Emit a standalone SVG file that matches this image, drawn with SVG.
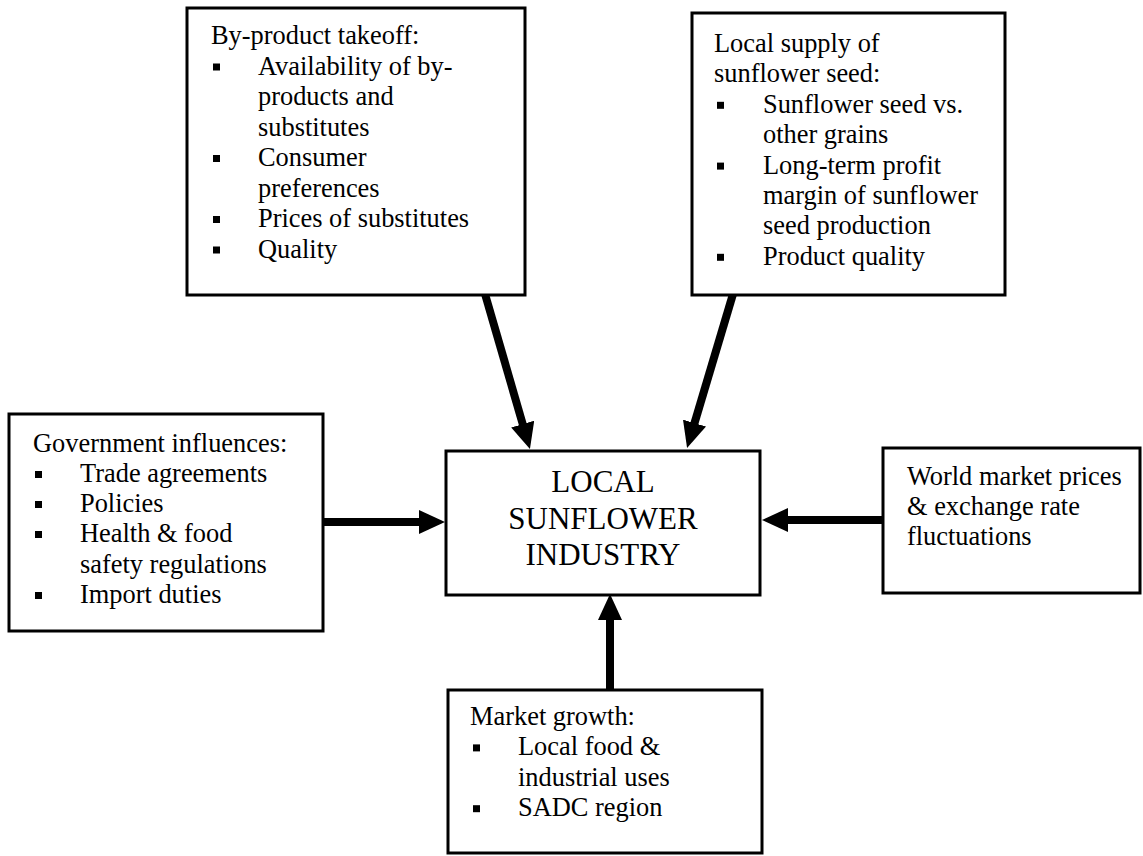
<svg xmlns="http://www.w3.org/2000/svg" width="1143" height="856" viewBox="0 0 1143 856">
<style>
.box{fill:#fff;stroke:#000;stroke-width:3}
.t{font-family:"Liberation Serif","Times New Roman",serif;font-size:26.4px;fill:#000}
.c{font-family:"Liberation Serif","Times New Roman",serif;font-size:31px;fill:#000;text-anchor:middle}
.b{fill:#000}
.arr{stroke:#000;stroke-width:8;fill:none;marker-end:url(#head)}
</style>
<defs>
<marker id="head" markerUnits="userSpaceOnUse" markerWidth="26" markerHeight="24" viewBox="0 0 26 24" refX="14" refY="12" orient="auto">
<polygon points="0,0 26,12 0,24" fill="#000"/>
</marker>
</defs>
<rect width="1143" height="856" fill="#fff"/>
<g id="connectors">
<line class="arr" x1="485" y1="294" x2="526.6" y2="437.5"/>
<line class="arr" x1="733" y1="294" x2="690.5" y2="436.5"/>
<line class="arr" x1="323" y1="522" x2="433" y2="522"/>
<line class="arr" x1="883" y1="520" x2="774" y2="520"/>
<line class="arr" x1="610" y1="690" x2="610" y2="606"/>
</g>
<g id="byproduct">
<rect class="box" x="187" y="8" width="338" height="287"/>
<text class="t" x="211" y="44">By-product takeoff:</text>
<rect class="b" x="213" y="63.5" width="7" height="7"/>
<text class="t" x="258" y="74.5">Availability of by-</text>
<text class="t" x="258" y="105">products and</text>
<text class="t" x="258" y="135.5">substitutes</text>
<rect class="b" x="213" y="155" width="7" height="7"/>
<text class="t" x="258" y="166">Consumer</text>
<text class="t" x="258" y="196.5">preferences</text>
<rect class="b" x="213" y="216" width="7" height="7"/>
<text class="t" x="258" y="227">Prices of substitutes</text>
<rect class="b" x="213" y="246.5" width="7" height="7"/>
<text class="t" x="258" y="257.5">Quality</text>
</g>
<g id="localsupply">
<rect class="box" x="692" y="13" width="313" height="282"/>
<text class="t" x="714" y="52">Local supply of</text>
<text class="t" x="714" y="82.4">sunflower seed:</text>
<rect class="b" x="717" y="101.8" width="7" height="7"/>
<text class="t" x="763" y="112.8">Sunflower seed vs.</text>
<text class="t" x="763" y="143.2">other grains</text>
<rect class="b" x="717" y="162.6" width="7" height="7"/>
<text class="t" x="763" y="173.6">Long-term profit</text>
<text class="t" x="763" y="204">margin of sunflower</text>
<text class="t" x="763" y="234.4">seed production</text>
<rect class="b" x="717" y="253.8" width="7" height="7"/>
<text class="t" x="763" y="264.8">Product quality</text>
</g>
<g id="government">
<rect class="box" x="9" y="414" width="314" height="217"/>
<text class="t" x="33" y="452">Government influences:</text>
<rect class="b" x="35" y="471" width="7" height="7"/>
<text class="t" x="80" y="482">Trade agreements</text>
<rect class="b" x="35" y="501" width="7" height="7"/>
<text class="t" x="80" y="512">Policies</text>
<rect class="b" x="35" y="531" width="7" height="7"/>
<text class="t" x="80" y="542">Health &amp; food</text>
<text class="t" x="80" y="572.5">safety regulations</text>
<rect class="b" x="35" y="592" width="7" height="7"/>
<text class="t" x="80" y="603">Import duties</text>
</g>
<g id="industry">
<rect class="box" x="446" y="451" width="314" height="144"/>
<text class="c" x="603" y="492">LOCAL</text>
<text class="c" x="603" y="528.5">SUNFLOWER</text>
<text class="c" x="603" y="565">INDUSTRY</text>
</g>
<g id="world">
<rect class="box" x="883" y="448" width="257" height="145"/>
<text class="t" x="907" y="485">World market prices</text>
<text class="t" x="907" y="515">&amp; exchange rate</text>
<text class="t" x="907" y="545">fluctuations</text>
</g>
<g id="market">
<rect class="box" x="448" y="690" width="314" height="163"/>
<text class="t" x="470" y="725">Market growth:</text>
<rect class="b" x="473" y="744.4" width="7" height="7"/>
<text class="t" x="518" y="755.4">Local food &amp;</text>
<text class="t" x="518" y="785.8">industrial uses</text>
<rect class="b" x="473" y="805.2" width="7" height="7"/>
<text class="t" x="518" y="816.2">SADC region</text>
</g>
</svg>
